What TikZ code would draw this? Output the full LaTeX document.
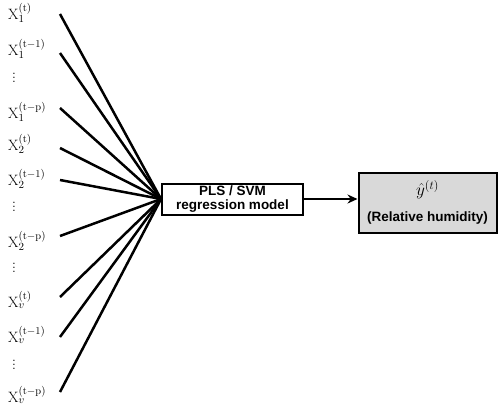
\documentclass[tikz,border=0pt]{standalone}
\usepackage{fontspec}
\newfontfamily\arialfont{Liberation Sans}
\usetikzlibrary{arrows.meta, positioning}
\tikzset{
    input/.style={anchor=base west, inner sep=0pt, font=\fontsize{15}{17}\selectfont},
    skip/.style={inner sep=0pt, font=\fontsize{14}{16}\selectfont},
    model/.style={rectangle, draw=black, line width=2pt, minimum width=141pt, minimum height=31pt, inner sep=1pt, align=center, font=\arialfont\bfseries\fontsize{13.5}{14}\selectfont},
    result/.style={rectangle, draw=black, line width=2pt, fill=gray!30, minimum width=138pt, minimum height=60pt, inner sep=1pt, align=center, font=\arialfont\bfseries\fontsize{13.5}{14}\selectfont},
    feed/.style={line width=2.5pt},
    arrow/.style={line width=2pt, -{Stealth[length=10pt, width=9pt]}}
}

\begin{document}
\begin{tikzpicture}[x=1pt, y=-1pt]
        \useasboundingbox (0,0) rectangle (498,410);

        % Inputs (lagged variables)
        \foreach \n/\yy/\var/\lag in {a/19/1/t, b/55/1/t-1, c/118/1/t-p, d/150/2/t, e/185/2/t-1, f/247/2/t-p, g/307/v/t, h/342/v/t-1, i/402/v/t-p}
            \node[input] (x\n) at (8,\yy) {$\mathrm{X}_{\var}^{(\mathrm{\lag})}$};

        % Omitted lags
        \node[skip] (dots1) at (14,75) {$\vdots$};
        \node[skip] (dots2) at (14,204) {$\vdots$};
        \node[skip] (dots3) at (14,265) {$\vdots$};
        \node[skip] (dots4) at (14,362) {$\vdots$};

        % Model and output
        \node (model) [model] at (232.5,199) {PLS / SVM\\regression model};
        \node (out) [result] at (427.5,202.5) {\fontsize{18}{18}\selectfont$\hat{y}^{(t)}$\\[12pt](Relative humidity)};

        % Flows
        \foreach \n/\yy in {a/14, b/53, c/108, d/148, e/180, f/236, g/297, h/337, i/392} {
            \coordinate (s\n) at (60,\yy);
            \draw[feed] (s\n) -- (model.west);
        }
        \draw[arrow] (model.east) -- (model.east -| out.west);
    \end{tikzpicture}
\end{document}
